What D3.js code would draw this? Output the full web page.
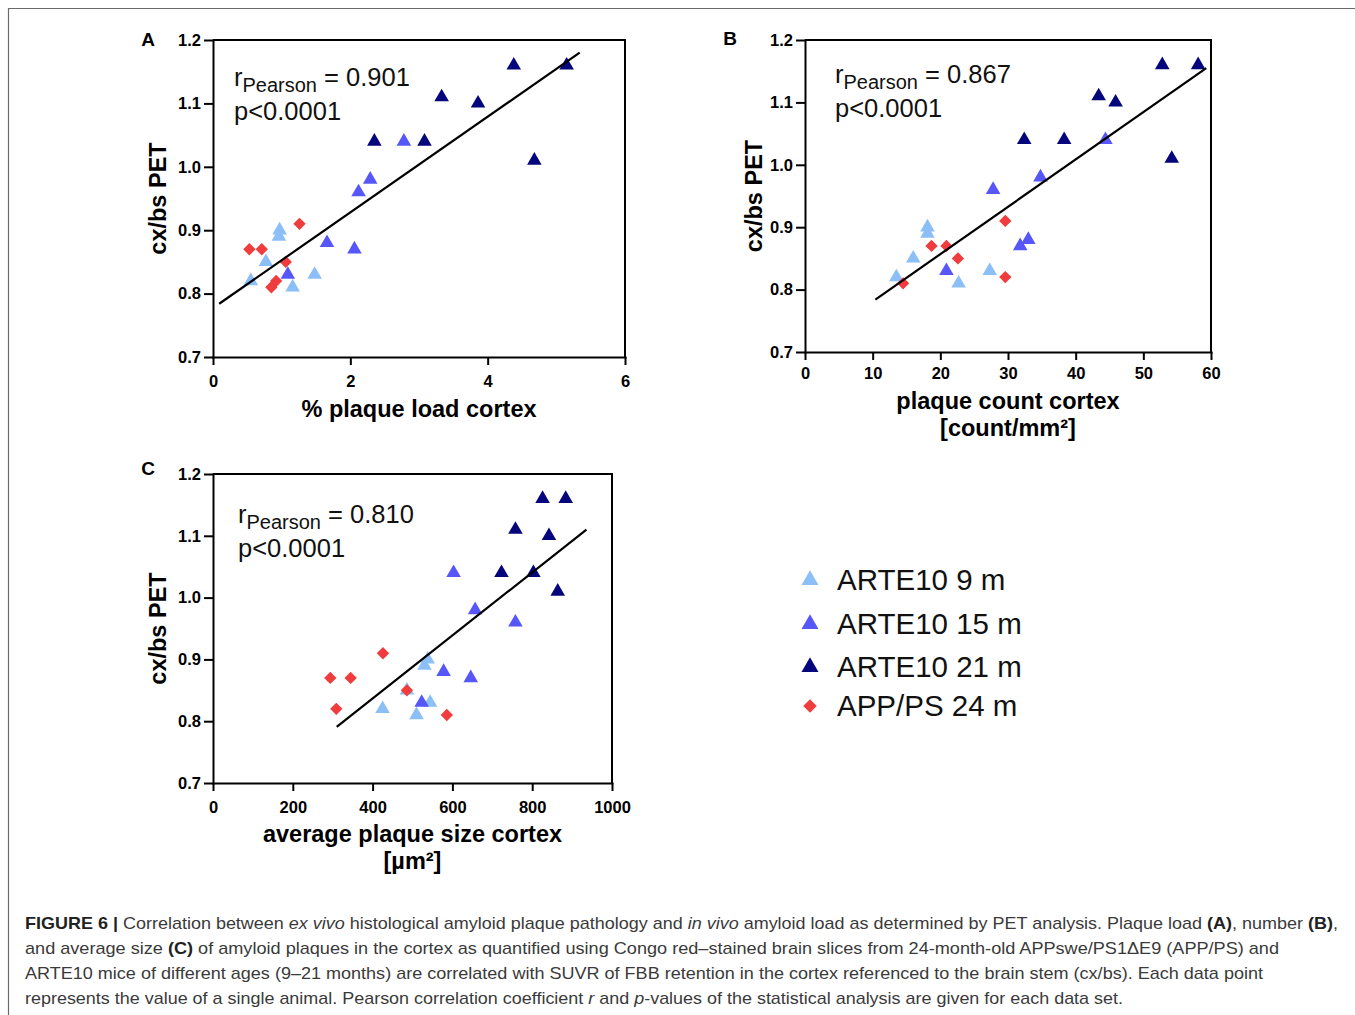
<!DOCTYPE html>
<html>
<head>
<meta charset="utf-8">
<script src="https://cdn.jsdelivr.net/npm/d3@7"></script>
<style>
  body { margin: 0; background: #fff; }
  svg { display: block; font-family: "Liberation Sans", Arial, sans-serif; }
  .axis text { font-weight: bold; font-size: 16.5px; fill: #000; }
  .axis path, .axis line { stroke: #000; stroke-width: 2; }
</style>
</head>
<body>
<div id="fig"></div>
<script>
// groups, in legend order
const groups = ["ARTE10 9 m", "ARTE10 15 m", "ARTE10 21 m", "APP/PS 24 m"];
const groupColors = ["#8cbff7", "#5757f7", "#05057c", "#f03c3c"];
const groupShapes = ["triangle", "triangle", "triangle", "diamond"];

// cx/bs PET value of each animal (same animals in all three panels)
const pet9m  = [0.90, 0.89, 0.85, 0.82, 0.83, 0.81];
const pet15m = [1.04, 0.98, 0.96, 0.88, 0.87, 0.83];
const pet21m = [1.16, 1.16, 1.11, 1.10, 1.04, 1.04, 1.01];
const pet24m = [0.87, 0.87, 0.91, 0.85, 0.82, 0.81];

// A: % plaque load cortex
const loadA = [
  [0.97, 0.96, 0.77, 0.55, 1.48, 1.16],
  [2.78, 2.29, 2.12, 1.66, 2.06, 1.09],
  [4.38, 5.15, 3.33, 3.86, 2.35, 3.08, 4.68],
  [0.53, 0.71, 1.26, 1.06, 0.92, 0.85]
];
// B: plaque count cortex [count/mm2]
const countB = [
  [18.1, 18.1, 16.0, 13.5, 27.3, 22.7],
  [44.4, 34.8, 27.8, 33.0, 31.8, 20.9],
  [52.8, 58.1, 43.4, 45.9, 32.4, 38.3, 54.2],
  [18.7, 20.9, 29.6, 22.6, 29.6, 14.5]
];
// C: average plaque size cortex [um2]
const sizeC = [
  [538, 530, 486, 425, 544, 510],
  [603, 657, 758, 578, 646, 523],
  [826, 884, 758, 842, 723, 803, 864],
  [294, 345, 426, 486, 309, 586]
];

// regression line end points
const fitA = [[0.09, 0.784], [5.34, 1.18]];
const fitB = [[10.4, 0.784], [59.3, 1.155]];
const fitC = [[310, 0.791], [936, 1.11]];

const rValues = ["0.901", "0.867", "0.810"];
const yTicks = [0.7, 0.8, 0.9, 1.0, 1.1, 1.2];
const xTicksA = [0, 2, 4, 6];
const xTicksB = [0, 10, 20, 30, 40, 50, 60];
const xTicksC = [0, 200, 400, 600, 800, 1000];

const pets = [pet9m, pet15m, pet21m, pet24m];

const W = 1355, H = 1015;
const svg = d3.select("#fig").append("svg")
  .attr("width", W).attr("height", H)
  .attr("viewBox", `0 0 ${W} ${H}`);

svg.append("rect").attr("width", W).attr("height", H).attr("fill", "#fff");

// outer border (only top and left visible)
svg.append("path")
  .attr("d", `M8.5,${H} V8.5 H${W}`)
  .attr("fill", "none").attr("stroke", "#6a6a6a").attr("stroke-width", 1.2);

function marker(shape, big) {
  if (shape === "triangle") {
    return d3.symbol(d3.symbolTriangle, big ? 125 : 92)();
  }
  return d3.symbol(d3.symbolSquare, big ? 92 : 76)();
}

function drawPanel(p) {
  const x = d3.scaleLinear().domain(p.xDomain).range([p.left, p.right]);
  const y = d3.scaleLinear().domain([0.7, 1.2]).range([p.bottom, p.top]);
  const g = svg.append("g");

  // frame (top and right)
  g.append("path")
    .attr("d", `M${p.left},${p.top} H${p.right} V${p.bottom}`)
    .attr("fill", "none").attr("stroke", "#000").attr("stroke-width", 2);

  g.append("g").attr("class", "axis")
    .attr("transform", `translate(${p.left},0)`)
    .call(d3.axisLeft(y).tickValues(yTicks).tickFormat(d3.format(".1f"))
      .tickSize(9).tickSizeOuter(0).tickPadding(3));

  g.append("g").attr("class", "axis")
    .attr("transform", `translate(0,${p.bottom})`)
    .call(d3.axisBottom(x).tickValues(p.xTicks).tickFormat(d3.format("d"))
      .tickSize(8).tickSizeOuter(0).tickPadding(p.xPad));

  g.selectAll(".axis .domain").attr("stroke-linecap", "square");

  // points
  groups.forEach((name, gi) => {
    const pts = p.xs[gi].map((v, i) => [v, pets[gi][i]]);
    g.selectAll(null).data(pts).enter().append("path")
      .attr("d", marker(groupShapes[gi], false))
      .attr("transform", d => `translate(${x(d[0])},${y(d[1])})` + (groupShapes[gi] === "diamond" ? " rotate(45)" : ""))
      .attr("fill", groupColors[gi]);
  });

  // regression line
  g.append("line")
    .attr("x1", x(p.fit[0][0])).attr("y1", y(p.fit[0][1]))
    .attr("x2", x(p.fit[1][0])).attr("y2", y(p.fit[1][1]))
    .attr("stroke", "#000").attr("stroke-width", 2.2);

  // r / p annotation
  const t = g.append("text").attr("x", p.annX).attr("y", p.annY)
    .attr("font-size", 25.5).attr("fill", "#111");
  t.append("tspan").text("r");
  t.append("tspan").attr("font-size", 20).attr("dy", 6).text("Pearson");
  t.append("tspan").attr("dy", -6).text(" = " + p.r);
  g.append("text").attr("x", p.annX).attr("y", p.annY + 34)
    .attr("font-size", 25.5).attr("fill", "#111").text("p<0.0001");

  // panel letter
  g.append("text").attr("x", p.letterX).attr("y", p.letterY)
    .attr("text-anchor", "middle").attr("font-size", 19).attr("font-weight", "bold")
    .text(p.letter);

  // y title
  g.append("text")
    .attr("transform", `translate(${p.yTitleX},${(p.top + p.bottom) / 2}) rotate(-90)`)
    .attr("text-anchor", "middle").attr("font-size", 23.5).attr("font-weight", "bold")
    .text("cx/bs PET");

  // x title
  p.xTitle.forEach((line, i) => {
    g.append("text")
      .attr("x", (p.left + p.right) / 2).attr("y", p.xTitleY + i * 27)
      .attr("text-anchor", "middle").attr("font-size", 23.5).attr("font-weight", "bold")
      .text(line);
  });
}

drawPanel({
  letter: "A", letterX: 148, letterY: 46,
  left: 213, right: 625, top: 40, bottom: 357,
  xDomain: [0, 6], xTicks: xTicksA, xPad: 10, xs: loadA, fit: fitA,
  r: rValues[0], annX: 234, annY: 86,
  yTitleX: 166, xTitle: ["% plaque load cortex"], xTitleY: 417
});
drawPanel({
  letter: "B", letterX: 730, letterY: 45,
  left: 805, right: 1211, top: 40, bottom: 352,
  xDomain: [0, 60], xTicks: xTicksB, xPad: 7, xs: countB, fit: fitB,
  r: rValues[1], annX: 835, annY: 83,
  yTitleX: 762, xTitle: ["plaque count cortex", "[count/mm²]"], xTitleY: 409
});
drawPanel({
  letter: "C", letterX: 148, letterY: 475,
  left: 213, right: 612, top: 474, bottom: 783,
  xDomain: [0, 1000], xTicks: xTicksC, xPad: 10, xs: sizeC, fit: fitC,
  r: rValues[2], annX: 238, annY: 523,
  yTitleX: 166, xTitle: ["average plaque size cortex", "[µm²]"], xTitleY: 842
});

// legend
const legendY = [580, 624, 667, 706];
const lg = svg.append("g");
groups.forEach((name, i) => {
  lg.append("path")
    .attr("d", marker(groupShapes[i], true))
    .attr("transform", `translate(810,${legendY[i]})` + (groupShapes[i] === "diamond" ? " rotate(45)" : ""))
    .attr("fill", groupColors[i]);
  lg.append("text").attr("x", 837).attr("y", legendY[i] + 10)
    .attr("font-size", 29.5).attr("fill", "#111").text(name);
});

// caption
const caption = [
  [["FIGURE 6 | ", "b"], ["Correlation between ", ""], ["ex vivo", "i"], [" histological amyloid plaque pathology and ", ""], ["in vivo", "i"],
   [" amyloid load as determined by PET analysis. Plaque load ", ""], ["(A)", "b"], [", number ", ""], ["(B)", "b"], [",", ""]],
  [["and average size ", ""], ["(C)", "b"], [" of amyloid plaques in the cortex as quantified using Congo red–stained brain slices from 24-month-old APPswe/PS1ΔE9 (APP/PS) and", ""]],
  [["ARTE10 mice of different ages (9–21 months) are correlated with SUVR of FBB retention in the cortex referenced to the brain stem (cx/bs). Each data point", ""]],
  [["represents the value of a single animal. Pearson correlation coefficient ", ""], ["r", "i"], [" and ", ""], ["p", "i"], ["-values of the statistical analysis are given for each data set.", ""]]
];
const captionWidths = [1313, 1254, 1238, 1098];
caption.forEach((line, i) => {
  const t = svg.append("text").attr("x", 25).attr("y", 929 + i * 25)
    .attr("font-size", 17).attr("fill", "#3a3a3a")
    .attr("textLength", captionWidths[i]).attr("lengthAdjust", "spacingAndGlyphs");
  line.forEach(([s, st]) => {
    const ts = t.append("tspan").text(s);
    if (st === "b") ts.attr("font-weight", "bold").attr("fill", "#222");
    if (st === "i") ts.attr("font-style", "italic");
  });
});
</script>
</body>
</html>
